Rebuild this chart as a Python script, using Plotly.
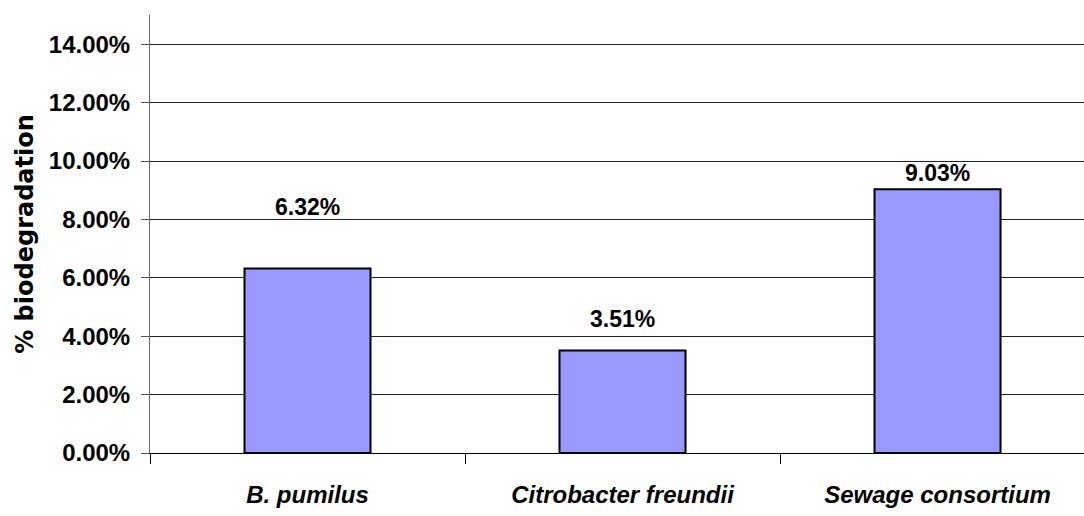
import plotly.graph_objects as go

# Biodegradation achieved by each culture
cultures = ["B. pumilus", "Citrobacter freundii", "Sewage consortium"]
biodegradation = [0.0632, 0.0351, 0.0903]
y_ticks = [0.0, 0.02, 0.04, 0.06, 0.08, 0.10, 0.12, 0.14]

# vertical gap (px) between each bar top and the centre of its value label
label_lift = [61, 32, 16]

FONT = "Liberation Sans, Arial, sans-serif"

fig = go.Figure(
    go.Bar(
        x=cultures,
        y=biodegradation,
        width=0.4,
        marker=dict(color="#9999FF", line=dict(color="#000000", width=2)),
        hoverinfo="skip",
    )
)

for name, val, lift in zip(cultures, biodegradation, label_lift):
    fig.add_annotation(
        x=name, y=val, text=f"{val:.2%}", showarrow=False,
        yanchor="middle", yshift=lift,
        font=dict(family=FONT, size=23, color="#000000", weight="bold"),
    )

fig.update_layout(
    width=1084, height=516,
    margin=dict(l=150, r=0, t=15, b=63),
    paper_bgcolor="#FFFFFF", plot_bgcolor="#FFFFFF",
    showlegend=False,
    font=dict(family=FONT, color="#000000"),
)

fig.update_xaxes(
    type="category",
    range=[-0.5, 2.465],
    tickson="boundaries",
    ticks="outside", ticklen=10, tickcolor="#000000", tickwidth=1,
    showline=True, linecolor="#000000", linewidth=1,
    showgrid=False,
    ticklabelstandoff=20,
    tickfont=dict(family=FONT, size=24, color="#000000", weight="bold", style="italic"),
)

fig.update_yaxes(
    range=[0, 0.15],
    tickvals=y_ticks,
    tickformat=".2%",
    ticks="outside", ticklen=8, tickcolor="#555555", tickwidth=1,
    showline=True, linecolor="#666666", linewidth=1,
    showgrid=True, gridcolor="#222222", gridwidth=1,
    zeroline=False,
    ticklabelstandoff=6,
    tickfont=dict(family=FONT, size=24, color="#000000", weight="bold"),
    title=dict(
        text="% biodegradation",
        font=dict(family="DejaVu Sans, Liberation Sans, sans-serif", size=24,
                  color="#000000", weight="bold"),
        standoff=8,
    ),
)

fig.write_html("out.html")
